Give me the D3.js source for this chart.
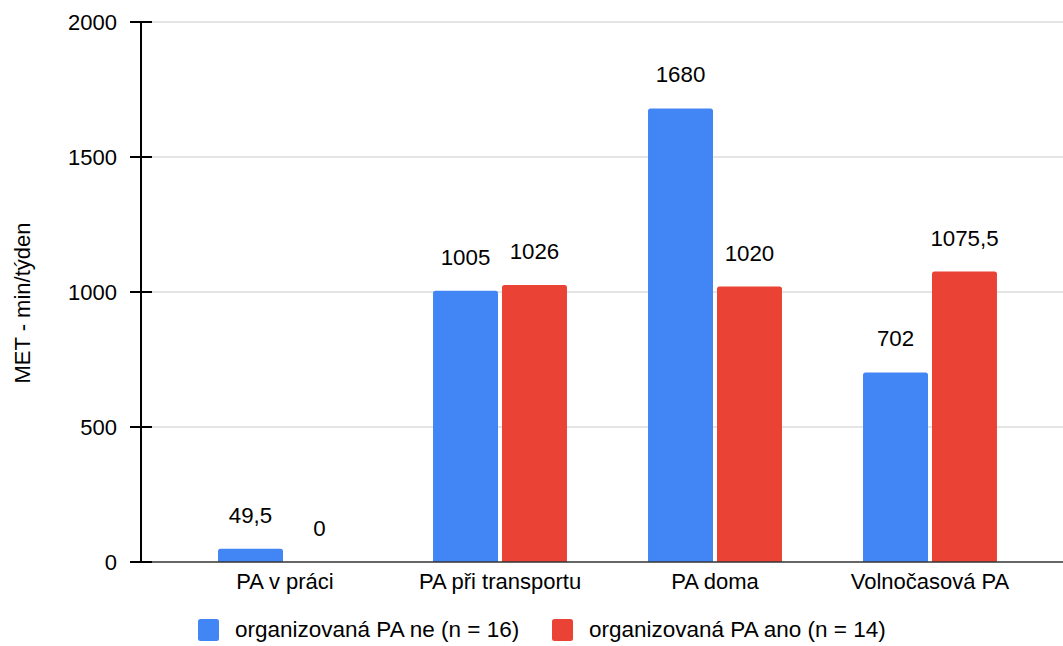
<!DOCTYPE html>
<html><head><meta charset="utf-8">
<script src="https://cdn.jsdelivr.net/npm/d3@7"></script>
<style>
html,body{margin:0;padding:0;background:#fff;}
svg{display:block;font-family:"Liberation Sans",Arial,sans-serif;}
</style></head>
<body>
<svg id="chart" width="1063" height="646"></svg>
<script>
const categories = ["PA v práci", "PA při transportu", "PA doma", "Volnočasová PA"];
const seriesNames = ["organizovaná PA ne (n = 16)", "organizovaná PA ano (n = 14)"];
const seriesNe = [49.5, 1005, 1680, 702];
const seriesAno = [0, 1026, 1020, 1075.5];
const yTicks = [0, 500, 1000, 1500, 2000];
const yTitle = "MET - min/týden";
const colors = ["#4285F4", "#EA4335"];

const series = [seriesNe, seriesAno];
const svg = d3.select("#chart");
const W = 1063;

const y = d3.scaleLinear().domain([0, 2000]).range([562, 22]);
const x0 = d3.scaleBand().domain(categories).range([177.5, 1037.5]).paddingInner(0.377).paddingOuter(0.1885);
const x1 = d3.scaleBand().domain([0, 1]).range([0, x0.bandwidth()]).paddingInner(0.058).paddingOuter(0);

// gridlines
svg.append("g").selectAll("line").data(yTicks.filter(d => d > 0)).join("line")
  .attr("x1", 152).attr("x2", W).attr("y1", d => y(d)).attr("y2", d => y(d))
  .attr("stroke", "#cccccc").attr("stroke-width", 1.2);

// bars
const fmt = v => String(v).replace(".", ",");
categories.forEach((c, i) => {
  series.forEach((s, j) => {
    const v = s[i];
    const bx = x0(c) + x1(j);
    const bw = x1.bandwidth();
    if (v > 0) {
      const h = y(0) - y(v);
      const r = Math.min(2.5, h);
      svg.append("path")
        .attr("d", `M${bx},${y(0)} L${bx},${y(v)+r} Q${bx},${y(v)} ${bx+r},${y(v)} L${bx+bw-r},${y(v)} Q${bx+bw},${y(v)} ${bx+bw},${y(v)+r} L${bx+bw},${y(0)} Z`)
        .attr("fill", colors[j]);
    }
    svg.append("text")
      .attr("x", bx + bw / 2).attr("y", y(v) - 26)
      .attr("text-anchor", "middle").attr("font-size", 22.3).attr("fill", "#000")
      .text(fmt(v));
  });
});

// baseline
svg.append("line").attr("x1", 130).attr("x2", W).attr("y1", y(0)).attr("y2", y(0))
  .attr("stroke", "#333").attr("stroke-width", 1.5);

// y axis
const yAxis = d3.axisLeft(y).tickValues(yTicks).tickFormat(d3.format("d")).tickSize(0).tickPadding(24);
const gy = svg.append("g").attr("transform", "translate(141,0)").call(yAxis);
gy.select(".domain").remove();
gy.selectAll("text").attr("font-size", 22).attr("fill", "#000").attr("font-family", "Liberation Sans, Arial, sans-serif").attr("dy", "0.35em");
svg.append("line").attr("x1", 141).attr("x2", 141).attr("y1", y(2000)).attr("y2", y(0))
  .attr("stroke", "#000").attr("stroke-width", 2);
svg.append("g").selectAll("line").data(yTicks).join("line")
  .attr("x1", 130).attr("x2", 152).attr("y1", d => y(d)).attr("y2", d => y(d))
  .attr("stroke", "#000").attr("stroke-width", 2);

// x axis labels
const xAxis = d3.axisBottom(x0).tickSize(0).tickPadding(0);
const gx = svg.append("g").attr("transform", `translate(0,${y(0)})`).call(xAxis);
gx.select(".domain").remove();
gx.selectAll("text").attr("font-size", 22).attr("fill", "#000").attr("font-family", "Liberation Sans, Arial, sans-serif")
  .attr("y", 27).attr("dy", 0);

// y title
svg.append("text").attr("transform", "translate(30,303) rotate(-90)")
  .attr("text-anchor", "middle").attr("font-size", 22).attr("fill", "#000").text(yTitle);

// legend
const legX = [198, 552];
seriesNames.forEach((n, j) => {
  svg.append("rect").attr("x", legX[j]).attr("y", 619).attr("width", 21).attr("height", 22)
    .attr("rx", 2.5).attr("fill", colors[j]);
  svg.append("text").attr("x", legX[j] + 37).attr("y", 637).attr("font-size", 22.5).attr("fill", "#000").text(n);
});
</script>
</body></html>
